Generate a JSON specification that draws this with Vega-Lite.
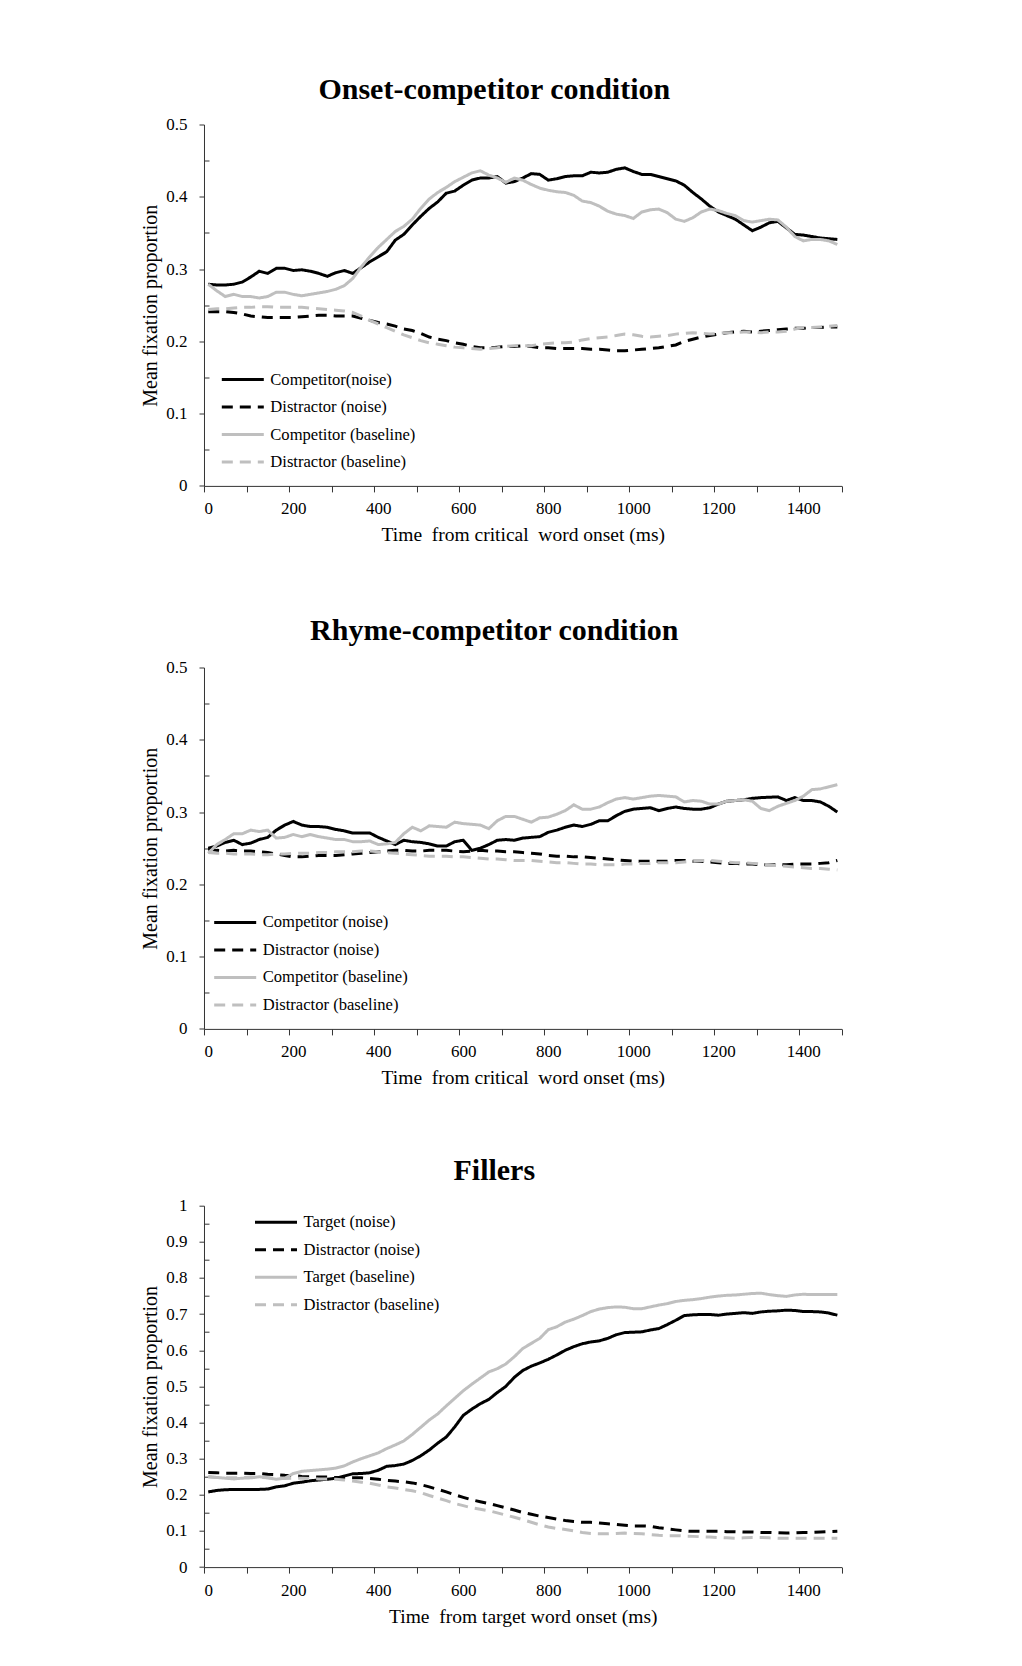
{
  "$schema": "https://vega.github.io/schema/vega-lite/v6.json",
  "background": "white",
  "padding": {"left": 140, "top": 74.5, "right": 0, "bottom": 0},
  "spacing": 71,
  "resolve": {"scale": {"color": "independent", "strokeDash": "independent"}},
  "config": {
    "view": {"stroke": null},
    "font": "Liberation Serif",
    "axis": {
      "grid": false,
      "domainColor": "#333333",
      "tickColor": "#333333",
      "labelColor": "#000000",
      "titleColor": "#000000",
      "labelFont": "Liberation Serif",
      "titleFont": "Liberation Serif",
      "labelFontSize": 17,
      "titleFontSize": 19.5,
      "titleFontWeight": "normal"
    },
    "legend": {
      "orient": "none",
      "title": null,
      "symbolType": "M-2,0H2",
      "symbolSize": 441,
      "symbolStrokeWidth": 3,
      "labelFont": "Liberation Serif",
      "labelFontSize": 16.6,
      "labelColor": "#000000",
      "labelOffset": 15.5,
      "rowPadding": 6.5,
      "padding": 0
    },
    "title": {
      "font": "Liberation Serif",
      "fontSize": 30,
      "fontWeight": "bold",
      "color": "#000000",
      "anchor": "middle",
      "frame": "group",
      "dx": -28.5,
      "offset": 10.5
    },
    "line": {"strokeWidth": 3}
  },
  "datasets": {
    "onset": [
      {"t":0,"s":"cn","v":0.279},{"t":20,"s":"cn","v":0.278},{"t":40,"s":"cn","v":0.278},{"t":60,"s":"cn","v":0.279},{"t":80,"s":"cn","v":0.282},{"t":100,"s":"cn","v":0.289},{"t":120,"s":"cn","v":0.297},{"t":140,"s":"cn","v":0.294},{"t":160,"s":"cn","v":0.301},{"t":180,"s":"cn","v":0.301},
      {"t":200,"s":"cn","v":0.298},{"t":220,"s":"cn","v":0.299},{"t":240,"s":"cn","v":0.297},{"t":260,"s":"cn","v":0.294},{"t":280,"s":"cn","v":0.290},{"t":300,"s":"cn","v":0.295},{"t":320,"s":"cn","v":0.298},{"t":340,"s":"cn","v":0.294},{"t":360,"s":"cn","v":0.302},{"t":380,"s":"cn","v":0.310},
      {"t":400,"s":"cn","v":0.317},{"t":420,"s":"cn","v":0.324},{"t":440,"s":"cn","v":0.340},{"t":460,"s":"cn","v":0.348},{"t":480,"s":"cn","v":0.361},{"t":500,"s":"cn","v":0.373},{"t":520,"s":"cn","v":0.384},{"t":540,"s":"cn","v":0.393},{"t":560,"s":"cn","v":0.405},{"t":580,"s":"cn","v":0.408},
      {"t":600,"s":"cn","v":0.416},{"t":620,"s":"cn","v":0.423},{"t":640,"s":"cn","v":0.426},{"t":660,"s":"cn","v":0.426},{"t":680,"s":"cn","v":0.428},{"t":700,"s":"cn","v":0.419},{"t":720,"s":"cn","v":0.421},{"t":740,"s":"cn","v":0.426},{"t":760,"s":"cn","v":0.432},{"t":780,"s":"cn","v":0.431},
      {"t":800,"s":"cn","v":0.423},{"t":820,"s":"cn","v":0.425},{"t":840,"s":"cn","v":0.428},{"t":860,"s":"cn","v":0.429},{"t":880,"s":"cn","v":0.429},{"t":900,"s":"cn","v":0.434},{"t":920,"s":"cn","v":0.433},{"t":940,"s":"cn","v":0.434},{"t":960,"s":"cn","v":0.438},{"t":980,"s":"cn","v":0.440},
      {"t":1000,"s":"cn","v":0.435},{"t":1020,"s":"cn","v":0.431},{"t":1040,"s":"cn","v":0.431},{"t":1060,"s":"cn","v":0.428},{"t":1080,"s":"cn","v":0.425},{"t":1100,"s":"cn","v":0.422},{"t":1120,"s":"cn","v":0.416},{"t":1140,"s":"cn","v":0.406},{"t":1160,"s":"cn","v":0.397},{"t":1180,"s":"cn","v":0.387},
      {"t":1200,"s":"cn","v":0.379},{"t":1220,"s":"cn","v":0.374},{"t":1240,"s":"cn","v":0.369},{"t":1260,"s":"cn","v":0.361},{"t":1280,"s":"cn","v":0.353},{"t":1300,"s":"cn","v":0.358},{"t":1320,"s":"cn","v":0.364},{"t":1340,"s":"cn","v":0.366},{"t":1360,"s":"cn","v":0.357},{"t":1380,"s":"cn","v":0.348},
      {"t":1400,"s":"cn","v":0.347},{"t":1420,"s":"cn","v":0.345},{"t":1440,"s":"cn","v":0.343},{"t":1460,"s":"cn","v":0.342},{"t":1480,"s":"cn","v":0.341},

      {"t":0,"s":"dn","v":0.241},{"t":20,"s":"dn","v":0.241},{"t":40,"s":"dn","v":0.241},{"t":60,"s":"dn","v":0.240},{"t":80,"s":"dn","v":0.238},{"t":100,"s":"dn","v":0.235},{"t":120,"s":"dn","v":0.234},{"t":140,"s":"dn","v":0.233},{"t":160,"s":"dn","v":0.233},{"t":180,"s":"dn","v":0.233},
      {"t":200,"s":"dn","v":0.233},{"t":220,"s":"dn","v":0.234},{"t":240,"s":"dn","v":0.235},{"t":260,"s":"dn","v":0.236},{"t":280,"s":"dn","v":0.236},{"t":300,"s":"dn","v":0.235},{"t":320,"s":"dn","v":0.235},{"t":340,"s":"dn","v":0.235},{"t":360,"s":"dn","v":0.232},{"t":380,"s":"dn","v":0.229},
      {"t":400,"s":"dn","v":0.226},{"t":420,"s":"dn","v":0.224},{"t":440,"s":"dn","v":0.221},{"t":460,"s":"dn","v":0.217},{"t":480,"s":"dn","v":0.215},{"t":500,"s":"dn","v":0.211},{"t":520,"s":"dn","v":0.206},{"t":540,"s":"dn","v":0.203},{"t":560,"s":"dn","v":0.201},{"t":580,"s":"dn","v":0.198},
      {"t":600,"s":"dn","v":0.196},{"t":620,"s":"dn","v":0.193},{"t":640,"s":"dn","v":0.191},{"t":660,"s":"dn","v":0.191},{"t":680,"s":"dn","v":0.192},{"t":700,"s":"dn","v":0.193},{"t":720,"s":"dn","v":0.193},{"t":740,"s":"dn","v":0.194},{"t":760,"s":"dn","v":0.193},{"t":780,"s":"dn","v":0.191},
      {"t":800,"s":"dn","v":0.191},{"t":820,"s":"dn","v":0.190},{"t":840,"s":"dn","v":0.190},{"t":860,"s":"dn","v":0.190},{"t":880,"s":"dn","v":0.190},{"t":900,"s":"dn","v":0.189},{"t":920,"s":"dn","v":0.189},{"t":940,"s":"dn","v":0.188},{"t":960,"s":"dn","v":0.187},{"t":980,"s":"dn","v":0.187},
      {"t":1000,"s":"dn","v":0.188},{"t":1020,"s":"dn","v":0.189},{"t":1040,"s":"dn","v":0.190},{"t":1060,"s":"dn","v":0.191},{"t":1080,"s":"dn","v":0.193},{"t":1100,"s":"dn","v":0.195},{"t":1120,"s":"dn","v":0.200},{"t":1140,"s":"dn","v":0.203},{"t":1160,"s":"dn","v":0.206},{"t":1180,"s":"dn","v":0.208},
      {"t":1200,"s":"dn","v":0.210},{"t":1220,"s":"dn","v":0.212},{"t":1240,"s":"dn","v":0.213},{"t":1260,"s":"dn","v":0.214},{"t":1280,"s":"dn","v":0.213},{"t":1300,"s":"dn","v":0.214},{"t":1320,"s":"dn","v":0.215},{"t":1340,"s":"dn","v":0.216},{"t":1360,"s":"dn","v":0.217},{"t":1380,"s":"dn","v":0.218},
      {"t":1400,"s":"dn","v":0.218},{"t":1420,"s":"dn","v":0.219},{"t":1440,"s":"dn","v":0.219},{"t":1460,"s":"dn","v":0.220},{"t":1480,"s":"dn","v":0.220},

      {"t":0,"s":"cb","v":0.279},{"t":20,"s":"cb","v":0.270},{"t":40,"s":"cb","v":0.262},{"t":60,"s":"cb","v":0.265},{"t":80,"s":"cb","v":0.262},{"t":100,"s":"cb","v":0.262},{"t":120,"s":"cb","v":0.260},{"t":140,"s":"cb","v":0.262},{"t":160,"s":"cb","v":0.268},{"t":180,"s":"cb","v":0.268},
      {"t":200,"s":"cb","v":0.265},{"t":220,"s":"cb","v":0.263},{"t":240,"s":"cb","v":0.265},{"t":260,"s":"cb","v":0.267},{"t":280,"s":"cb","v":0.269},{"t":300,"s":"cb","v":0.272},{"t":320,"s":"cb","v":0.277},{"t":340,"s":"cb","v":0.287},{"t":360,"s":"cb","v":0.303},{"t":380,"s":"cb","v":0.317},
      {"t":400,"s":"cb","v":0.330},{"t":420,"s":"cb","v":0.341},{"t":440,"s":"cb","v":0.352},{"t":460,"s":"cb","v":0.359},{"t":480,"s":"cb","v":0.369},{"t":500,"s":"cb","v":0.384},{"t":520,"s":"cb","v":0.397},{"t":540,"s":"cb","v":0.406},{"t":560,"s":"cb","v":0.413},{"t":580,"s":"cb","v":0.421},
      {"t":600,"s":"cb","v":0.427},{"t":620,"s":"cb","v":0.433},{"t":640,"s":"cb","v":0.436},{"t":660,"s":"cb","v":0.430},{"t":680,"s":"cb","v":0.426},{"t":700,"s":"cb","v":0.420},{"t":720,"s":"cb","v":0.426},{"t":740,"s":"cb","v":0.423},{"t":760,"s":"cb","v":0.417},{"t":780,"s":"cb","v":0.412},
      {"t":800,"s":"cb","v":0.409},{"t":820,"s":"cb","v":0.407},{"t":840,"s":"cb","v":0.406},{"t":860,"s":"cb","v":0.402},{"t":880,"s":"cb","v":0.394},{"t":900,"s":"cb","v":0.392},{"t":920,"s":"cb","v":0.387},{"t":940,"s":"cb","v":0.380},{"t":960,"s":"cb","v":0.376},{"t":980,"s":"cb","v":0.374},
      {"t":1000,"s":"cb","v":0.370},{"t":1020,"s":"cb","v":0.379},{"t":1040,"s":"cb","v":0.382},{"t":1060,"s":"cb","v":0.383},{"t":1080,"s":"cb","v":0.378},{"t":1100,"s":"cb","v":0.369},{"t":1120,"s":"cb","v":0.366},{"t":1140,"s":"cb","v":0.371},{"t":1160,"s":"cb","v":0.379},{"t":1180,"s":"cb","v":0.383},
      {"t":1200,"s":"cb","v":0.381},{"t":1220,"s":"cb","v":0.377},{"t":1240,"s":"cb","v":0.374},{"t":1260,"s":"cb","v":0.367},{"t":1280,"s":"cb","v":0.365},{"t":1300,"s":"cb","v":0.367},{"t":1320,"s":"cb","v":0.369},{"t":1340,"s":"cb","v":0.368},{"t":1360,"s":"cb","v":0.358},{"t":1380,"s":"cb","v":0.345},
      {"t":1400,"s":"cb","v":0.339},{"t":1420,"s":"cb","v":0.341},{"t":1440,"s":"cb","v":0.341},{"t":1460,"s":"cb","v":0.339},{"t":1480,"s":"cb","v":0.334},

      {"t":0,"s":"db","v":0.244},{"t":20,"s":"db","v":0.245},{"t":40,"s":"db","v":0.245},{"t":60,"s":"db","v":0.246},{"t":80,"s":"db","v":0.247},{"t":100,"s":"db","v":0.247},{"t":120,"s":"db","v":0.248},{"t":140,"s":"db","v":0.248},{"t":160,"s":"db","v":0.247},{"t":180,"s":"db","v":0.247},
      {"t":200,"s":"db","v":0.247},{"t":220,"s":"db","v":0.247},{"t":240,"s":"db","v":0.246},{"t":260,"s":"db","v":0.245},{"t":280,"s":"db","v":0.244},{"t":300,"s":"db","v":0.243},{"t":320,"s":"db","v":0.242},{"t":340,"s":"db","v":0.240},{"t":360,"s":"db","v":0.235},{"t":380,"s":"db","v":0.229},
      {"t":400,"s":"db","v":0.224},{"t":420,"s":"db","v":0.219},{"t":440,"s":"db","v":0.214},{"t":460,"s":"db","v":0.209},{"t":480,"s":"db","v":0.205},{"t":500,"s":"db","v":0.201},{"t":520,"s":"db","v":0.198},{"t":540,"s":"db","v":0.196},{"t":560,"s":"db","v":0.194},{"t":580,"s":"db","v":0.192},
      {"t":600,"s":"db","v":0.191},{"t":620,"s":"db","v":0.190},{"t":640,"s":"db","v":0.189},{"t":660,"s":"db","v":0.190},{"t":680,"s":"db","v":0.191},{"t":700,"s":"db","v":0.193},{"t":720,"s":"db","v":0.194},{"t":740,"s":"db","v":0.194},{"t":760,"s":"db","v":0.194},{"t":780,"s":"db","v":0.196},
      {"t":800,"s":"db","v":0.197},{"t":820,"s":"db","v":0.198},{"t":840,"s":"db","v":0.198},{"t":860,"s":"db","v":0.199},{"t":880,"s":"db","v":0.202},{"t":900,"s":"db","v":0.204},{"t":920,"s":"db","v":0.205},{"t":940,"s":"db","v":0.206},{"t":960,"s":"db","v":0.208},{"t":980,"s":"db","v":0.210},
      {"t":1000,"s":"db","v":0.209},{"t":1020,"s":"db","v":0.207},{"t":1040,"s":"db","v":0.206},{"t":1060,"s":"db","v":0.207},{"t":1080,"s":"db","v":0.208},{"t":1100,"s":"db","v":0.210},{"t":1120,"s":"db","v":0.211},{"t":1140,"s":"db","v":0.212},{"t":1160,"s":"db","v":0.211},{"t":1180,"s":"db","v":0.210},
      {"t":1200,"s":"db","v":0.211},{"t":1220,"s":"db","v":0.212},{"t":1240,"s":"db","v":0.212},{"t":1260,"s":"db","v":0.213},{"t":1280,"s":"db","v":0.213},{"t":1300,"s":"db","v":0.212},{"t":1320,"s":"db","v":0.213},{"t":1340,"s":"db","v":0.213},{"t":1360,"s":"db","v":0.214},{"t":1380,"s":"db","v":0.217},
      {"t":1400,"s":"db","v":0.219},{"t":1420,"s":"db","v":0.219},{"t":1440,"s":"db","v":0.220},{"t":1460,"s":"db","v":0.221},{"t":1480,"s":"db","v":0.222}
    ],
    "rhyme": [
      {"t":0,"s":"cn","v":0.250},{"t":20,"s":"cn","v":0.253},{"t":40,"s":"cn","v":0.258},{"t":60,"s":"cn","v":0.261},{"t":80,"s":"cn","v":0.255},{"t":100,"s":"cn","v":0.257},{"t":120,"s":"cn","v":0.262},{"t":140,"s":"cn","v":0.265},{"t":160,"s":"cn","v":0.275},{"t":180,"s":"cn","v":0.282},
      {"t":200,"s":"cn","v":0.287},{"t":220,"s":"cn","v":0.282},{"t":240,"s":"cn","v":0.280},{"t":260,"s":"cn","v":0.280},{"t":280,"s":"cn","v":0.279},{"t":300,"s":"cn","v":0.276},{"t":320,"s":"cn","v":0.274},{"t":340,"s":"cn","v":0.271},{"t":360,"s":"cn","v":0.271},{"t":380,"s":"cn","v":0.271},
      {"t":400,"s":"cn","v":0.265},{"t":420,"s":"cn","v":0.260},{"t":440,"s":"cn","v":0.255},{"t":460,"s":"cn","v":0.261},{"t":480,"s":"cn","v":0.259},{"t":500,"s":"cn","v":0.258},{"t":520,"s":"cn","v":0.256},{"t":540,"s":"cn","v":0.253},{"t":560,"s":"cn","v":0.253},{"t":580,"s":"cn","v":0.259},
      {"t":600,"s":"cn","v":0.261},{"t":620,"s":"cn","v":0.247},{"t":640,"s":"cn","v":0.250},{"t":660,"s":"cn","v":0.255},{"t":680,"s":"cn","v":0.261},{"t":700,"s":"cn","v":0.262},{"t":720,"s":"cn","v":0.261},{"t":740,"s":"cn","v":0.264},{"t":760,"s":"cn","v":0.265},{"t":780,"s":"cn","v":0.266},
      {"t":800,"s":"cn","v":0.272},{"t":820,"s":"cn","v":0.275},{"t":840,"s":"cn","v":0.279},{"t":860,"s":"cn","v":0.282},{"t":880,"s":"cn","v":0.280},{"t":900,"s":"cn","v":0.283},{"t":920,"s":"cn","v":0.288},{"t":940,"s":"cn","v":0.288},{"t":960,"s":"cn","v":0.295},{"t":980,"s":"cn","v":0.301},
      {"t":1000,"s":"cn","v":0.304},{"t":1020,"s":"cn","v":0.305},{"t":1040,"s":"cn","v":0.306},{"t":1060,"s":"cn","v":0.302},{"t":1080,"s":"cn","v":0.305},{"t":1100,"s":"cn","v":0.307},{"t":1120,"s":"cn","v":0.305},{"t":1140,"s":"cn","v":0.304},{"t":1160,"s":"cn","v":0.304},{"t":1180,"s":"cn","v":0.306},
      {"t":1200,"s":"cn","v":0.311},{"t":1220,"s":"cn","v":0.315},{"t":1240,"s":"cn","v":0.316},{"t":1260,"s":"cn","v":0.317},{"t":1280,"s":"cn","v":0.319},{"t":1300,"s":"cn","v":0.320},{"t":1320,"s":"cn","v":0.3205},{"t":1340,"s":"cn","v":0.321},{"t":1360,"s":"cn","v":0.316},{"t":1380,"s":"cn","v":0.320},
      {"t":1400,"s":"cn","v":0.316},{"t":1420,"s":"cn","v":0.316},{"t":1440,"s":"cn","v":0.314},{"t":1460,"s":"cn","v":0.308},{"t":1480,"s":"cn","v":0.300},

      {"t":0,"s":"dn","v":0.249},{"t":20,"s":"dn","v":0.247},{"t":40,"s":"dn","v":0.246},{"t":60,"s":"dn","v":0.247},{"t":80,"s":"dn","v":0.246},{"t":100,"s":"dn","v":0.246},{"t":120,"s":"dn","v":0.245},{"t":140,"s":"dn","v":0.244},{"t":160,"s":"dn","v":0.242},{"t":180,"s":"dn","v":0.240},
      {"t":200,"s":"dn","v":0.238},{"t":220,"s":"dn","v":0.238},{"t":240,"s":"dn","v":0.239},{"t":260,"s":"dn","v":0.240},{"t":280,"s":"dn","v":0.240},{"t":300,"s":"dn","v":0.240},{"t":320,"s":"dn","v":0.241},{"t":340,"s":"dn","v":0.242},{"t":360,"s":"dn","v":0.243},{"t":380,"s":"dn","v":0.244},
      {"t":400,"s":"dn","v":0.245},{"t":420,"s":"dn","v":0.246},{"t":440,"s":"dn","v":0.247},{"t":460,"s":"dn","v":0.247},{"t":480,"s":"dn","v":0.246},{"t":500,"s":"dn","v":0.246},{"t":520,"s":"dn","v":0.247},{"t":540,"s":"dn","v":0.247},{"t":560,"s":"dn","v":0.247},{"t":580,"s":"dn","v":0.246},
      {"t":600,"s":"dn","v":0.245},{"t":620,"s":"dn","v":0.246},{"t":640,"s":"dn","v":0.247},{"t":660,"s":"dn","v":0.246},{"t":680,"s":"dn","v":0.246},{"t":700,"s":"dn","v":0.245},{"t":720,"s":"dn","v":0.245},{"t":740,"s":"dn","v":0.244},{"t":760,"s":"dn","v":0.243},{"t":780,"s":"dn","v":0.242},
      {"t":800,"s":"dn","v":0.240},{"t":820,"s":"dn","v":0.239},{"t":840,"s":"dn","v":0.239},{"t":860,"s":"dn","v":0.238},{"t":880,"s":"dn","v":0.238},{"t":900,"s":"dn","v":0.237},{"t":920,"s":"dn","v":0.236},{"t":940,"s":"dn","v":0.235},{"t":960,"s":"dn","v":0.234},{"t":980,"s":"dn","v":0.233},
      {"t":1000,"s":"dn","v":0.232},{"t":1020,"s":"dn","v":0.232},{"t":1040,"s":"dn","v":0.232},{"t":1060,"s":"dn","v":0.232},{"t":1080,"s":"dn","v":0.232},{"t":1100,"s":"dn","v":0.233},{"t":1120,"s":"dn","v":0.233},{"t":1140,"s":"dn","v":0.232},{"t":1160,"s":"dn","v":0.232},{"t":1180,"s":"dn","v":0.231},
      {"t":1200,"s":"dn","v":0.230},{"t":1220,"s":"dn","v":0.229},{"t":1240,"s":"dn","v":0.229},{"t":1260,"s":"dn","v":0.228},{"t":1280,"s":"dn","v":0.228},{"t":1300,"s":"dn","v":0.227},{"t":1320,"s":"dn","v":0.227},{"t":1340,"s":"dn","v":0.227},{"t":1360,"s":"dn","v":0.227},{"t":1380,"s":"dn","v":0.228},
      {"t":1400,"s":"dn","v":0.228},{"t":1420,"s":"dn","v":0.228},{"t":1440,"s":"dn","v":0.229},{"t":1460,"s":"dn","v":0.230},{"t":1480,"s":"dn","v":0.233},

      {"t":0,"s":"cb","v":0.243},{"t":20,"s":"cb","v":0.255},{"t":40,"s":"cb","v":0.262},{"t":60,"s":"cb","v":0.270},{"t":80,"s":"cb","v":0.270},{"t":100,"s":"cb","v":0.275},{"t":120,"s":"cb","v":0.273},{"t":140,"s":"cb","v":0.275},{"t":160,"s":"cb","v":0.264},{"t":180,"s":"cb","v":0.265},
      {"t":200,"s":"cb","v":0.269},{"t":220,"s":"cb","v":0.266},{"t":240,"s":"cb","v":0.269},{"t":260,"s":"cb","v":0.266},{"t":280,"s":"cb","v":0.264},{"t":300,"s":"cb","v":0.262},{"t":320,"s":"cb","v":0.262},{"t":340,"s":"cb","v":0.259},{"t":360,"s":"cb","v":0.259},{"t":380,"s":"cb","v":0.260},
      {"t":400,"s":"cb","v":0.255},{"t":420,"s":"cb","v":0.256},{"t":440,"s":"cb","v":0.258},{"t":460,"s":"cb","v":0.270},{"t":480,"s":"cb","v":0.279},{"t":500,"s":"cb","v":0.274},{"t":520,"s":"cb","v":0.281},{"t":540,"s":"cb","v":0.280},{"t":560,"s":"cb","v":0.279},{"t":580,"s":"cb","v":0.286},
      {"t":600,"s":"cb","v":0.284},{"t":620,"s":"cb","v":0.283},{"t":640,"s":"cb","v":0.282},{"t":660,"s":"cb","v":0.277},{"t":680,"s":"cb","v":0.288},{"t":700,"s":"cb","v":0.294},{"t":720,"s":"cb","v":0.294},{"t":740,"s":"cb","v":0.290},{"t":760,"s":"cb","v":0.286},{"t":780,"s":"cb","v":0.292},
      {"t":800,"s":"cb","v":0.293},{"t":820,"s":"cb","v":0.297},{"t":840,"s":"cb","v":0.302},{"t":860,"s":"cb","v":0.310},{"t":880,"s":"cb","v":0.304},{"t":900,"s":"cb","v":0.304},{"t":920,"s":"cb","v":0.307},{"t":940,"s":"cb","v":0.313},{"t":960,"s":"cb","v":0.318},{"t":980,"s":"cb","v":0.320},
      {"t":1000,"s":"cb","v":0.318},{"t":1020,"s":"cb","v":0.320},{"t":1040,"s":"cb","v":0.322},{"t":1060,"s":"cb","v":0.323},{"t":1080,"s":"cb","v":0.322},{"t":1100,"s":"cb","v":0.321},{"t":1120,"s":"cb","v":0.314},{"t":1140,"s":"cb","v":0.316},{"t":1160,"s":"cb","v":0.315},{"t":1180,"s":"cb","v":0.311},
      {"t":1200,"s":"cb","v":0.311},{"t":1220,"s":"cb","v":0.315},{"t":1240,"s":"cb","v":0.316},{"t":1260,"s":"cb","v":0.317},{"t":1280,"s":"cb","v":0.315},{"t":1300,"s":"cb","v":0.305},{"t":1320,"s":"cb","v":0.302},{"t":1340,"s":"cb","v":0.308},{"t":1360,"s":"cb","v":0.312},{"t":1380,"s":"cb","v":0.316},
      {"t":1400,"s":"cb","v":0.322},{"t":1420,"s":"cb","v":0.331},{"t":1440,"s":"cb","v":0.332},{"t":1460,"s":"cb","v":0.335},{"t":1480,"s":"cb","v":0.338},

      {"t":0,"s":"db","v":0.244},{"t":20,"s":"db","v":0.243},{"t":40,"s":"db","v":0.243},{"t":60,"s":"db","v":0.242},{"t":80,"s":"db","v":0.242},{"t":100,"s":"db","v":0.242},{"t":120,"s":"db","v":0.241},{"t":140,"s":"db","v":0.241},{"t":160,"s":"db","v":0.242},{"t":180,"s":"db","v":0.242},
      {"t":200,"s":"db","v":0.243},{"t":220,"s":"db","v":0.243},{"t":240,"s":"db","v":0.243},{"t":260,"s":"db","v":0.244},{"t":280,"s":"db","v":0.244},{"t":300,"s":"db","v":0.245},{"t":320,"s":"db","v":0.245},{"t":340,"s":"db","v":0.245},{"t":360,"s":"db","v":0.246},{"t":380,"s":"db","v":0.246},
      {"t":400,"s":"db","v":0.245},{"t":420,"s":"db","v":0.244},{"t":440,"s":"db","v":0.243},{"t":460,"s":"db","v":0.242},{"t":480,"s":"db","v":0.241},{"t":500,"s":"db","v":0.240},{"t":520,"s":"db","v":0.239},{"t":540,"s":"db","v":0.239},{"t":560,"s":"db","v":0.239},{"t":580,"s":"db","v":0.238},
      {"t":600,"s":"db","v":0.238},{"t":620,"s":"db","v":0.237},{"t":640,"s":"db","v":0.236},{"t":660,"s":"db","v":0.235},{"t":680,"s":"db","v":0.235},{"t":700,"s":"db","v":0.234},{"t":720,"s":"db","v":0.233},{"t":740,"s":"db","v":0.233},{"t":760,"s":"db","v":0.233},{"t":780,"s":"db","v":0.232},
      {"t":800,"s":"db","v":0.231},{"t":820,"s":"db","v":0.230},{"t":840,"s":"db","v":0.230},{"t":860,"s":"db","v":0.229},{"t":880,"s":"db","v":0.228},{"t":900,"s":"db","v":0.228},{"t":920,"s":"db","v":0.227},{"t":940,"s":"db","v":0.227},{"t":960,"s":"db","v":0.227},{"t":980,"s":"db","v":0.228},
      {"t":1000,"s":"db","v":0.228},{"t":1020,"s":"db","v":0.229},{"t":1040,"s":"db","v":0.229},{"t":1060,"s":"db","v":0.230},{"t":1080,"s":"db","v":0.230},{"t":1100,"s":"db","v":0.230},{"t":1120,"s":"db","v":0.231},{"t":1140,"s":"db","v":0.232},{"t":1160,"s":"db","v":0.233},{"t":1180,"s":"db","v":0.233},
      {"t":1200,"s":"db","v":0.232},{"t":1220,"s":"db","v":0.231},{"t":1240,"s":"db","v":0.230},{"t":1260,"s":"db","v":0.230},{"t":1280,"s":"db","v":0.229},{"t":1300,"s":"db","v":0.228},{"t":1320,"s":"db","v":0.227},{"t":1340,"s":"db","v":0.226},{"t":1360,"s":"db","v":0.225},{"t":1380,"s":"db","v":0.224},
      {"t":1400,"s":"db","v":0.223},{"t":1420,"s":"db","v":0.222},{"t":1440,"s":"db","v":0.222},{"t":1460,"s":"db","v":0.221},{"t":1480,"s":"db","v":0.220}
    ],
    "fillers": [
      {"t":0,"s":"cn","v":0.208},{"t":20,"s":"cn","v":0.212},{"t":40,"s":"cn","v":0.214},{"t":60,"s":"cn","v":0.215},{"t":80,"s":"cn","v":0.215},{"t":100,"s":"cn","v":0.215},{"t":120,"s":"cn","v":0.215},{"t":140,"s":"cn","v":0.216},{"t":160,"s":"cn","v":0.222},{"t":180,"s":"cn","v":0.225},
      {"t":200,"s":"cn","v":0.232},{"t":220,"s":"cn","v":0.235},{"t":240,"s":"cn","v":0.239},{"t":260,"s":"cn","v":0.241},{"t":280,"s":"cn","v":0.243},{"t":300,"s":"cn","v":0.246},{"t":320,"s":"cn","v":0.252},{"t":340,"s":"cn","v":0.258},{"t":360,"s":"cn","v":0.259},{"t":380,"s":"cn","v":0.261},
      {"t":400,"s":"cn","v":0.268},{"t":420,"s":"cn","v":0.279},{"t":440,"s":"cn","v":0.281},{"t":460,"s":"cn","v":0.285},{"t":480,"s":"cn","v":0.295},{"t":500,"s":"cn","v":0.308},{"t":520,"s":"cn","v":0.324},{"t":540,"s":"cn","v":0.343},{"t":560,"s":"cn","v":0.360},{"t":580,"s":"cn","v":0.388},
      {"t":600,"s":"cn","v":0.420},{"t":620,"s":"cn","v":0.437},{"t":640,"s":"cn","v":0.452},{"t":660,"s":"cn","v":0.464},{"t":680,"s":"cn","v":0.483},{"t":700,"s":"cn","v":0.500},{"t":720,"s":"cn","v":0.525},{"t":740,"s":"cn","v":0.544},{"t":760,"s":"cn","v":0.556},{"t":780,"s":"cn","v":0.565},
      {"t":800,"s":"cn","v":0.575},{"t":820,"s":"cn","v":0.587},{"t":840,"s":"cn","v":0.600},{"t":860,"s":"cn","v":0.610},{"t":880,"s":"cn","v":0.618},{"t":900,"s":"cn","v":0.623},{"t":920,"s":"cn","v":0.626},{"t":940,"s":"cn","v":0.633},{"t":960,"s":"cn","v":0.643},{"t":980,"s":"cn","v":0.649},
      {"t":1000,"s":"cn","v":0.650},{"t":1020,"s":"cn","v":0.651},{"t":1040,"s":"cn","v":0.656},{"t":1060,"s":"cn","v":0.660},{"t":1080,"s":"cn","v":0.671},{"t":1100,"s":"cn","v":0.683},{"t":1120,"s":"cn","v":0.696},{"t":1140,"s":"cn","v":0.698},{"t":1160,"s":"cn","v":0.699},{"t":1180,"s":"cn","v":0.699},
      {"t":1200,"s":"cn","v":0.697},{"t":1220,"s":"cn","v":0.700},{"t":1240,"s":"cn","v":0.702},{"t":1260,"s":"cn","v":0.704},{"t":1280,"s":"cn","v":0.702},{"t":1300,"s":"cn","v":0.706},{"t":1320,"s":"cn","v":0.708},{"t":1340,"s":"cn","v":0.709},{"t":1360,"s":"cn","v":0.711},{"t":1380,"s":"cn","v":0.710},
      {"t":1400,"s":"cn","v":0.707},{"t":1420,"s":"cn","v":0.707},{"t":1440,"s":"cn","v":0.706},{"t":1460,"s":"cn","v":0.703},{"t":1480,"s":"cn","v":0.697},

      {"t":0,"s":"dn","v":0.262},{"t":20,"s":"dn","v":0.261},{"t":40,"s":"dn","v":0.260},{"t":60,"s":"dn","v":0.260},{"t":80,"s":"dn","v":0.260},{"t":100,"s":"dn","v":0.259},{"t":120,"s":"dn","v":0.259},{"t":140,"s":"dn","v":0.257},{"t":160,"s":"dn","v":0.256},{"t":180,"s":"dn","v":0.254},
      {"t":200,"s":"dn","v":0.253},{"t":220,"s":"dn","v":0.251},{"t":240,"s":"dn","v":0.250},{"t":260,"s":"dn","v":0.249},{"t":280,"s":"dn","v":0.249},{"t":300,"s":"dn","v":0.248},{"t":320,"s":"dn","v":0.247},{"t":340,"s":"dn","v":0.247},{"t":360,"s":"dn","v":0.247},{"t":380,"s":"dn","v":0.245},
      {"t":400,"s":"dn","v":0.243},{"t":420,"s":"dn","v":0.240},{"t":440,"s":"dn","v":0.238},{"t":460,"s":"dn","v":0.236},{"t":480,"s":"dn","v":0.233},{"t":500,"s":"dn","v":0.228},{"t":520,"s":"dn","v":0.222},{"t":540,"s":"dn","v":0.215},{"t":560,"s":"dn","v":0.208},{"t":580,"s":"dn","v":0.200},
      {"t":600,"s":"dn","v":0.193},{"t":620,"s":"dn","v":0.186},{"t":640,"s":"dn","v":0.181},{"t":660,"s":"dn","v":0.176},{"t":680,"s":"dn","v":0.170},{"t":700,"s":"dn","v":0.164},{"t":720,"s":"dn","v":0.158},{"t":740,"s":"dn","v":0.151},{"t":760,"s":"dn","v":0.146},{"t":780,"s":"dn","v":0.141},
      {"t":800,"s":"dn","v":0.137},{"t":820,"s":"dn","v":0.133},{"t":840,"s":"dn","v":0.129},{"t":860,"s":"dn","v":0.126},{"t":880,"s":"dn","v":0.124},{"t":900,"s":"dn","v":0.124},{"t":920,"s":"dn","v":0.122},{"t":940,"s":"dn","v":0.120},{"t":960,"s":"dn","v":0.118},{"t":980,"s":"dn","v":0.116},
      {"t":1000,"s":"dn","v":0.114},{"t":1020,"s":"dn","v":0.114},{"t":1040,"s":"dn","v":0.113},{"t":1060,"s":"dn","v":0.109},{"t":1080,"s":"dn","v":0.106},{"t":1100,"s":"dn","v":0.103},{"t":1120,"s":"dn","v":0.100},{"t":1140,"s":"dn","v":0.099},{"t":1160,"s":"dn","v":0.099},{"t":1180,"s":"dn","v":0.099},
      {"t":1200,"s":"dn","v":0.099},{"t":1220,"s":"dn","v":0.098},{"t":1240,"s":"dn","v":0.098},{"t":1260,"s":"dn","v":0.097},{"t":1280,"s":"dn","v":0.097},{"t":1300,"s":"dn","v":0.096},{"t":1320,"s":"dn","v":0.096},{"t":1340,"s":"dn","v":0.095},{"t":1360,"s":"dn","v":0.094},{"t":1380,"s":"dn","v":0.095},
      {"t":1400,"s":"dn","v":0.096},{"t":1420,"s":"dn","v":0.096},{"t":1440,"s":"dn","v":0.097},{"t":1460,"s":"dn","v":0.098},{"t":1480,"s":"dn","v":0.099},

      {"t":0,"s":"cb","v":0.251},{"t":20,"s":"cb","v":0.248},{"t":40,"s":"cb","v":0.246},{"t":60,"s":"cb","v":0.244},{"t":80,"s":"cb","v":0.246},{"t":100,"s":"cb","v":0.247},{"t":120,"s":"cb","v":0.250},{"t":140,"s":"cb","v":0.247},{"t":160,"s":"cb","v":0.243},{"t":180,"s":"cb","v":0.246},
      {"t":200,"s":"cb","v":0.259},{"t":220,"s":"cb","v":0.265},{"t":240,"s":"cb","v":0.267},{"t":260,"s":"cb","v":0.269},{"t":280,"s":"cb","v":0.271},{"t":300,"s":"cb","v":0.274},{"t":320,"s":"cb","v":0.280},{"t":340,"s":"cb","v":0.291},{"t":360,"s":"cb","v":0.300},{"t":380,"s":"cb","v":0.308},
      {"t":400,"s":"cb","v":0.316},{"t":420,"s":"cb","v":0.328},{"t":440,"s":"cb","v":0.338},{"t":460,"s":"cb","v":0.349},{"t":480,"s":"cb","v":0.367},{"t":500,"s":"cb","v":0.387},{"t":520,"s":"cb","v":0.407},{"t":540,"s":"cb","v":0.424},{"t":560,"s":"cb","v":0.446},{"t":580,"s":"cb","v":0.467},
      {"t":600,"s":"cb","v":0.488},{"t":620,"s":"cb","v":0.506},{"t":640,"s":"cb","v":0.523},{"t":660,"s":"cb","v":0.540},{"t":680,"s":"cb","v":0.549},{"t":700,"s":"cb","v":0.562},{"t":720,"s":"cb","v":0.582},{"t":740,"s":"cb","v":0.605},{"t":760,"s":"cb","v":0.619},{"t":780,"s":"cb","v":0.633},
      {"t":800,"s":"cb","v":0.657},{"t":820,"s":"cb","v":0.665},{"t":840,"s":"cb","v":0.678},{"t":860,"s":"cb","v":0.686},{"t":880,"s":"cb","v":0.696},{"t":900,"s":"cb","v":0.707},{"t":920,"s":"cb","v":0.714},{"t":940,"s":"cb","v":0.718},{"t":960,"s":"cb","v":0.720},{"t":980,"s":"cb","v":0.719},
      {"t":1000,"s":"cb","v":0.715},{"t":1020,"s":"cb","v":0.715},{"t":1040,"s":"cb","v":0.720},{"t":1060,"s":"cb","v":0.725},{"t":1080,"s":"cb","v":0.729},{"t":1100,"s":"cb","v":0.735},{"t":1120,"s":"cb","v":0.738},{"t":1140,"s":"cb","v":0.740},{"t":1160,"s":"cb","v":0.743},{"t":1180,"s":"cb","v":0.747},
      {"t":1200,"s":"cb","v":0.750},{"t":1220,"s":"cb","v":0.752},{"t":1240,"s":"cb","v":0.753},{"t":1260,"s":"cb","v":0.755},{"t":1280,"s":"cb","v":0.757},{"t":1300,"s":"cb","v":0.758},{"t":1320,"s":"cb","v":0.754},{"t":1340,"s":"cb","v":0.751},{"t":1360,"s":"cb","v":0.749},{"t":1380,"s":"cb","v":0.753},
      {"t":1400,"s":"cb","v":0.755},{"t":1420,"s":"cb","v":0.754},{"t":1440,"s":"cb","v":0.754},{"t":1460,"s":"cb","v":0.754},{"t":1480,"s":"cb","v":0.754},

      {"t":0,"s":"db","v":0.249},{"t":20,"s":"db","v":0.248},{"t":40,"s":"db","v":0.247},{"t":60,"s":"db","v":0.247},{"t":80,"s":"db","v":0.248},{"t":100,"s":"db","v":0.249},{"t":120,"s":"db","v":0.248},{"t":140,"s":"db","v":0.247},{"t":160,"s":"db","v":0.245},{"t":180,"s":"db","v":0.245},
      {"t":200,"s":"db","v":0.246},{"t":220,"s":"db","v":0.246},{"t":240,"s":"db","v":0.245},{"t":260,"s":"db","v":0.244},{"t":280,"s":"db","v":0.244},{"t":300,"s":"db","v":0.243},{"t":320,"s":"db","v":0.241},{"t":340,"s":"db","v":0.238},{"t":360,"s":"db","v":0.235},{"t":380,"s":"db","v":0.232},
      {"t":400,"s":"db","v":0.227},{"t":420,"s":"db","v":0.222},{"t":440,"s":"db","v":0.219},{"t":460,"s":"db","v":0.215},{"t":480,"s":"db","v":0.211},{"t":500,"s":"db","v":0.206},{"t":520,"s":"db","v":0.198},{"t":540,"s":"db","v":0.191},{"t":560,"s":"db","v":0.184},{"t":580,"s":"db","v":0.176},
      {"t":600,"s":"db","v":0.170},{"t":620,"s":"db","v":0.164},{"t":640,"s":"db","v":0.160},{"t":660,"s":"db","v":0.156},{"t":680,"s":"db","v":0.150},{"t":700,"s":"db","v":0.144},{"t":720,"s":"db","v":0.138},{"t":740,"s":"db","v":0.131},{"t":760,"s":"db","v":0.124},{"t":780,"s":"db","v":0.117},
      {"t":800,"s":"db","v":0.111},{"t":820,"s":"db","v":0.107},{"t":840,"s":"db","v":0.104},{"t":860,"s":"db","v":0.100},{"t":880,"s":"db","v":0.096},{"t":900,"s":"db","v":0.093},{"t":920,"s":"db","v":0.092},{"t":940,"s":"db","v":0.092},{"t":960,"s":"db","v":0.093},{"t":980,"s":"db","v":0.094},
      {"t":1000,"s":"db","v":0.093},{"t":1020,"s":"db","v":0.092},{"t":1040,"s":"db","v":0.090},{"t":1060,"s":"db","v":0.088},{"t":1080,"s":"db","v":0.087},{"t":1100,"s":"db","v":0.087},{"t":1120,"s":"db","v":0.086},{"t":1140,"s":"db","v":0.085},{"t":1160,"s":"db","v":0.084},{"t":1180,"s":"db","v":0.083},
      {"t":1200,"s":"db","v":0.082},{"t":1220,"s":"db","v":0.081},{"t":1240,"s":"db","v":0.080},{"t":1260,"s":"db","v":0.081},{"t":1280,"s":"db","v":0.082},{"t":1300,"s":"db","v":0.082},{"t":1320,"s":"db","v":0.081},{"t":1340,"s":"db","v":0.080},{"t":1360,"s":"db","v":0.080},{"t":1380,"s":"db","v":0.080},
      {"t":1400,"s":"db","v":0.080},{"t":1420,"s":"db","v":0.080},{"t":1440,"s":"db","v":0.080},{"t":1460,"s":"db","v":0.080},{"t":1480,"s":"db","v":0.080}
    ]
  },
  "vconcat": [
    {
      "title": {"text": "Onset-competitor condition"},
      "width": 637.6,
      "height": 361.4,
      "data": {"name": "onset"},
      "encoding": {
        "x": {
          "field": "t", "type": "quantitative",
          "scale": {"domain": [-10, 1490], "nice": false, "zero": false},
          "axis": {
            "values": [-10, 90, 190, 290, 390, 490, 590, 690, 790, 890, 990, 1090, 1190, 1290, 1390, 1490],
            "labelExpr": "(datum.value + 10) % 200 == 0 ? '' + (datum.value + 10) : ''",
            "labelOffset": 4.25, "labelOverlap": false, "labelFlush": false,
            "tickSize": 6, "labelPadding": 9, "titlePadding": 9,
            "title": "Time\u00a0 from critical\u00a0 word onset (ms)"
          }
        },
        "color": {
          "field": "s", "type": "nominal",
          "scale": {"domain": ["cn", "dn", "cb", "db"], "range": ["#000000", "#000000", "#bfbfbf", "#bfbfbf"]},
          "legend": {"legendX": 26.8, "legendY": 243, "labelExpr": "datum.label == 'cn' ? 'Competitor(noise)' : datum.label == 'dn' ? 'Distractor (noise)' : datum.label == 'cb' ? 'Competitor (baseline)' : 'Distractor (baseline)'"}
        },
        "strokeDash": {
          "field": "s", "type": "nominal",
          "scale": {"domain": ["cn", "dn", "cb", "db"], "range": [[1, 0], [11, 7], [1, 0], [11, 7]]},
          "legend": {"legendX": 26.8, "legendY": 243, "labelExpr": "datum.label == 'cn' ? 'Competitor(noise)' : datum.label == 'dn' ? 'Distractor (noise)' : datum.label == 'cb' ? 'Competitor (baseline)' : 'Distractor (baseline)'"}
        }
      },
      "layer": [
        {
          "transform": [{"filter": "datum.s == 'cn' || datum.s == 'dn'"}],
          "mark": {"type": "line", "strokeWidth": 3},
          "encoding": {
            "y": {
              "field": "v", "type": "quantitative",
              "scale": {"domain": [0, 0.5], "nice": false},
              "axis": {"values": [0, 0.1, 0.2, 0.3, 0.4, 0.5], "format": "~g", "tickSize": 5, "labelPadding": 12, "titlePadding": 5, "titleFontSize": 20, "title": "Mean fixation proportion"}
            }
          }
        },
        {
          "transform": [{"filter": "datum.s == 'cb' || datum.s == 'db'"}],
          "mark": {"type": "line", "strokeWidth": 3},
          "encoding": {
            "y": {
              "field": "v", "type": "quantitative",
              "axis": {"orient": "left", "values": [0.05, 0.15, 0.25, 0.35, 0.45], "labels": false, "domain": false, "tickSize": -5, "title": null}
            }
          }
        }
      ],
      "resolve": {"axis": {"y": "independent"}}
    },
    {
      "spacing": 68.2,
      "resolve": {"scale": {"color": "independent", "strokeDash": "independent"}},
      "vconcat": [
        {
          "title": {"text": "Rhyme-competitor condition", "offset": 12.5},
          "width": 637.6,
          "height": 361.4,
          "data": {"name": "rhyme"},
          "encoding": {
            "x": {
              "field": "t", "type": "quantitative",
              "scale": {"domain": [-10, 1490], "nice": false, "zero": false},
              "axis": {
                "values": [-10, 90, 190, 290, 390, 490, 590, 690, 790, 890, 990, 1090, 1190, 1290, 1390, 1490],
                "labelExpr": "(datum.value + 10) % 200 == 0 ? '' + (datum.value + 10) : ''",
                "labelOffset": 4.25, "labelOverlap": false, "labelFlush": false,
                "tickSize": 6, "labelPadding": 9, "titlePadding": 9,
                "title": "Time\u00a0 from critical\u00a0 word onset (ms)"
              }
            },
            "color": {
              "field": "s", "type": "nominal",
              "scale": {"domain": ["cn", "dn", "cb", "db"], "range": ["#000000", "#000000", "#bfbfbf", "#bfbfbf"]},
              "legend": {"legendX": 19.2, "legendY": 243, "labelExpr": "datum.label == 'cn' ? 'Competitor (noise)' : datum.label == 'dn' ? 'Distractor (noise)' : datum.label == 'cb' ? 'Competitor (baseline)' : 'Distractor (baseline)'"}
            },
            "strokeDash": {
              "field": "s", "type": "nominal",
              "scale": {"domain": ["cn", "dn", "cb", "db"], "range": [[1, 0], [11, 7], [1, 0], [11, 7]]},
              "legend": {"legendX": 19.2, "legendY": 243, "labelExpr": "datum.label == 'cn' ? 'Competitor (noise)' : datum.label == 'dn' ? 'Distractor (noise)' : datum.label == 'cb' ? 'Competitor (baseline)' : 'Distractor (baseline)'"}
            }
          },
          "layer": [
            {
              "transform": [{"filter": "datum.s == 'cn' || datum.s == 'dn'"}],
              "mark": {"type": "line", "strokeWidth": 3},
              "encoding": {
                "y": {
                  "field": "v", "type": "quantitative",
                  "scale": {"domain": [0, 0.5], "nice": false},
                  "axis": {"values": [0, 0.1, 0.2, 0.3, 0.4, 0.5], "format": "~g", "tickSize": 5, "labelPadding": 12, "titlePadding": 5, "titleFontSize": 20, "title": "Mean fixation proportion"}
                }
              }
            },
            {
              "transform": [{"filter": "datum.s == 'cb' || datum.s == 'db'"}],
              "mark": {"type": "line", "strokeWidth": 3},
              "encoding": {
                "y": {
                  "field": "v", "type": "quantitative",
                  "axis": {"orient": "left", "values": [0.05, 0.15, 0.25, 0.35, 0.45], "labels": false, "domain": false, "tickSize": -5, "title": null}
                }
              }
            }
          ],
          "resolve": {"axis": {"y": "independent"}}
        },
        {
          "title": {"text": "Fillers"},
          "width": 637.6,
          "height": 361.4,
          "data": {"name": "fillers"},
          "encoding": {
            "x": {
              "field": "t", "type": "quantitative",
              "scale": {"domain": [-10, 1490], "nice": false, "zero": false},
              "axis": {
                "values": [-10, 90, 190, 290, 390, 490, 590, 690, 790, 890, 990, 1090, 1190, 1290, 1390, 1490],
                "labelExpr": "(datum.value + 10) % 200 == 0 ? '' + (datum.value + 10) : ''",
                "labelOffset": 4.25, "labelOverlap": false, "labelFlush": false,
                "tickSize": 6, "labelPadding": 9, "titlePadding": 9,
                "title": "Time\u00a0 from target word onset (ms)"
              }
            },
            "color": {
              "field": "s", "type": "nominal",
              "scale": {"domain": ["cn", "dn", "cb", "db"], "range": ["#000000", "#000000", "#bfbfbf", "#bfbfbf"]},
              "legend": {"legendX": 60, "legendY": 4.5, "labelExpr": "datum.label == 'cn' ? 'Target (noise)' : datum.label == 'dn' ? 'Distractor (noise)' : datum.label == 'cb' ? 'Target (baseline)' : 'Distractor (baseline)'"}
            },
            "strokeDash": {
              "field": "s", "type": "nominal",
              "scale": {"domain": ["cn", "dn", "cb", "db"], "range": [[1, 0], [11, 7], [1, 0], [11, 7]]},
              "legend": {"legendX": 60, "legendY": 4.5, "labelExpr": "datum.label == 'cn' ? 'Target (noise)' : datum.label == 'dn' ? 'Distractor (noise)' : datum.label == 'cb' ? 'Target (baseline)' : 'Distractor (baseline)'"}
            }
          },
          "layer": [
            {
              "transform": [{"filter": "datum.s == 'cn' || datum.s == 'dn'"}],
              "mark": {"type": "line", "strokeWidth": 3},
              "encoding": {
                "y": {
                  "field": "v", "type": "quantitative",
                  "scale": {"domain": [0, 1], "nice": false},
                  "axis": {"values": [0, 0.1, 0.2, 0.3, 0.4, 0.5, 0.6, 0.7, 0.8, 0.9, 1], "format": "~g", "tickSize": 5, "labelPadding": 12, "titlePadding": 5, "titleFontSize": 20, "title": "Mean fixation proportion"}
                }
              }
            },
            {
              "transform": [{"filter": "datum.s == 'cb' || datum.s == 'db'"}],
              "mark": {"type": "line", "strokeWidth": 3},
              "encoding": {
                "y": {
                  "field": "v", "type": "quantitative",
                  "axis": {"orient": "left", "values": [0.05, 0.15, 0.25, 0.35, 0.45, 0.55, 0.65, 0.75, 0.85, 0.95], "labels": false, "domain": false, "tickSize": -5, "title": null}
                }
              }
            }
          ],
          "resolve": {"axis": {"y": "independent"}}
        }
      ]
    }
  ]
}
